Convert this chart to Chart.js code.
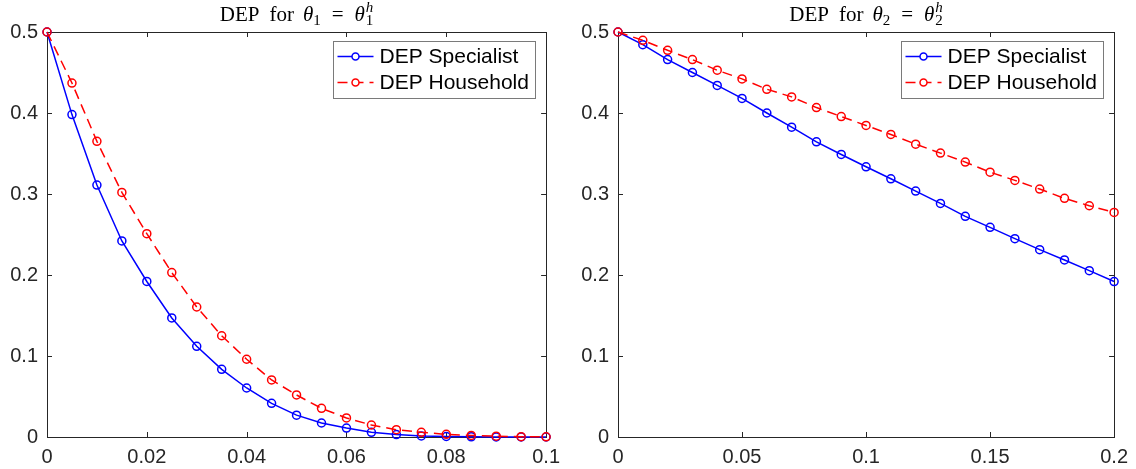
<!DOCTYPE html>
<html>
<head>
<meta charset="utf-8">
<script src="https://cdn.jsdelivr.net/npm/chart.js@4/dist/chart.umd.min.js"></script>
<style>
  body { margin: 0; background: #fff; }
  canvas { position: absolute; top: 0; }
</style>
</head>
<body>
<canvas id="leftChart" width="568" height="469" style="left:0"></canvas>
<canvas id="rightChart" width="568" height="469" style="left:568px"></canvas>
<script>
// theta_1 = theta_1^h panel
var xLeft = [0, 0.005, 0.01, 0.015, 0.02, 0.025, 0.03, 0.035, 0.04, 0.045, 0.05,
             0.055, 0.06, 0.065, 0.07, 0.075, 0.08, 0.085, 0.09, 0.095, 0.1];
var specialistLeft = [0.5, 0.398, 0.311, 0.242, 0.192, 0.147, 0.112, 0.0835, 0.0605, 0.0416, 0.027,
                      0.0173, 0.011, 0.0058, 0.003, 0.0013, 0.0006, 0.0002, 0.0001, 0, 0];
var householdLeft = [0.5, 0.437, 0.365, 0.302, 0.251, 0.203, 0.1605, 0.125, 0.096, 0.0704, 0.0519,
                     0.0354, 0.0235, 0.0148, 0.009, 0.0058, 0.0033, 0.002, 0.001, 0.0004, 0.0002];
var xTicksLeft = [0, 0.02, 0.04, 0.06, 0.08, 0.1];
var xLabelsLeft = ['0', '0.02', '0.04', '0.06', '0.08', '0.1'];

// theta_2 = theta_2^h panel
var xRight = [0, 0.01, 0.02, 0.03, 0.04, 0.05, 0.06, 0.07, 0.08, 0.09, 0.1,
              0.11, 0.12, 0.13, 0.14, 0.15, 0.16, 0.17, 0.18, 0.19, 0.2];
var specialistRight = [0.5, 0.4844, 0.466, 0.450, 0.434, 0.418, 0.400, 0.3825, 0.3644, 0.3488, 0.3336,
                       0.3188, 0.3036, 0.2884, 0.2724, 0.2588, 0.2449, 0.2313, 0.2186, 0.2054, 0.1919];
var householdRight = [0.5, 0.4897, 0.4774, 0.4659, 0.4528, 0.4421, 0.4293, 0.4199, 0.4067, 0.3956, 0.3846,
                      0.3735, 0.3615, 0.3505, 0.3394, 0.327, 0.3168, 0.3061, 0.2946, 0.2855, 0.2773];
var xTicksRight = [0, 0.05, 0.1, 0.15, 0.2];
var xLabelsRight = ['0', '0.05', '0.1', '0.15', '0.2'];

var yTicks = [0, 0.1, 0.2, 0.3, 0.4, 0.5];
var yLabels = ['0', '0.1', '0.2', '0.3', '0.4', '0.5'];
var seriesNames = ['DEP Specialist', 'DEP Household'];

var axisColor = '#262626';
var tickFont = { family: '"Liberation Sans", Arial, sans-serif', size: 20 };

function points(xs, ys) {
  return xs.map(function (x, i) { return { x: x, y: ys[i] }; });
}

// MATLAB-style box with inward tick marks on all four sides
var frame = {
  id: 'frame',
  beforeDatasetsDraw: function (chart) {
    var ctx = chart.ctx, a = chart.chartArea;
    var sx = chart.scales.x, sy = chart.scales.y;
    ctx.save();
    ctx.strokeStyle = axisColor;
    ctx.lineWidth = 1;
    ctx.strokeRect(Math.round(a.left) + 0.5, Math.round(a.top) + 0.5,
                   Math.round(a.right - a.left), Math.round(a.bottom - a.top));
    ctx.beginPath();
    sx.ticks.forEach(function (t) {
      var px = Math.round(sx.getPixelForValue(t.value)) + 0.5;
      ctx.moveTo(px, a.bottom); ctx.lineTo(px, a.bottom - 5);
      ctx.moveTo(px, a.top); ctx.lineTo(px, a.top + 5);
    });
    sy.ticks.forEach(function (t) {
      var py = Math.round(sy.getPixelForValue(t.value)) + 0.5;
      ctx.moveTo(a.left, py); ctx.lineTo(a.left + 5, py);
      ctx.moveTo(a.right, py); ctx.lineTo(a.right - 5, py);
    });
    ctx.stroke();
    ctx.restore();
  }
};

// legend box in the upper right corner of the axes
var boxLegend = {
  id: 'boxLegend',
  afterDatasetsDraw: function (chart) {
    var ctx = chart.ctx, a = chart.chartArea;
    var w = 202, h = 57;
    var left = Math.round(a.right - 11 - w) + 0.5, top = Math.round(a.top + 9) + 0.5;
    ctx.save();
    ctx.fillStyle = '#fff';
    ctx.fillRect(left, top, w, h);
    ctx.strokeStyle = '#7a7a7a';
    ctx.lineWidth = 1;
    ctx.strokeRect(left, top, w, h);
    chart.data.datasets.forEach(function (ds, i) {
      var y = top + 15 + i * 26;
      ctx.strokeStyle = ds.borderColor;
      ctx.lineWidth = 1.5;
      ctx.setLineDash(ds.borderDash || []);
      ctx.beginPath();
      ctx.moveTo(left + 4, y); ctx.lineTo(left + 40, y);
      ctx.stroke();
      ctx.setLineDash([]);
      ctx.beginPath();
      ctx.arc(left + 22, y, 3.5, 0, Math.PI * 2);
      ctx.fillStyle = '#fff';
      ctx.fill();
      ctx.stroke();
      ctx.fillStyle = '#000';
      ctx.font = '21px "Liberation Sans", Arial, sans-serif';
      ctx.textBaseline = 'middle';
      ctx.fillText(ds.label, left + 46, y + 1);
    });
    ctx.restore();
  }
};

// title "DEP for θk = θk^h" with sub/superscripts
var mathTitle = {
  id: 'mathTitle',
  afterDraw: function (chart) {
    var k = chart.options.plugins.mathTitle.index;
    var ctx = chart.ctx, a = chart.chartArea;
    var serif = '"Liberation Serif", "DejaVu Serif", serif';
    var big = '21px ' + serif, bigIt = 'italic 21px ' + serif;
    var small = '15px ' + serif, smallIt = 'italic 15px ' + serif;
    // gap = extra space after a piece
    var parts = [
      { t: 'DEP', f: big, dy: 0, gap: 10 },
      { t: 'for', f: big, dy: 0, gap: 9 },
      { t: 'θ', f: bigIt, dy: 0, gap: 0 },
      { t: k, f: small, dy: 4, gap: 11 },
      { t: '=', f: big, dy: 0, gap: 11 },
      { t: 'θ', f: bigIt, dy: 0, gap: 1 },
      { t: 'h', f: smallIt, dy: -9, gap: 0, stack: true },
      { t: k, f: small, dy: 4, gap: 0 }
    ];
    ctx.save();
    var total = 0;
    parts.forEach(function (p) {
      ctx.font = p.f;
      p.w = ctx.measureText(p.t).width;
      if (!p.stack) total += p.w + p.gap;
    });
    var x = (a.left + a.right) / 2 - total / 2;
    var base = 21;
    ctx.fillStyle = '#000';
    ctx.textBaseline = 'alphabetic';
    parts.forEach(function (p) {
      ctx.font = p.f;
      ctx.fillText(p.t, x, base + p.dy);
      if (!p.stack) x += p.w + p.gap;
    });
    ctx.restore();
  }
};

function makeChart(id, xs, spec, house, xMax, xTicks, xLabels, yWidth, padRight, index) {
  return new Chart(document.getElementById(id).getContext('2d'), {
    type: 'line',
    data: {
      datasets: [{
        label: seriesNames[0],
        data: points(xs, spec),
        borderColor: '#0000ff',
        backgroundColor: 'rgba(0,0,0,0)',
        borderWidth: 1.5,
        pointRadius: 4,
        pointBorderWidth: 1.5,
        pointBackgroundColor: 'rgba(0,0,0,0)',
        tension: 0,
        clip: false,
        order: 1
      }, {
        label: seriesNames[1],
        data: points(xs, house),
        borderColor: '#ff0000',
        backgroundColor: 'rgba(0,0,0,0)',
        borderWidth: 1.5,
        borderDash: [10, 6],
        pointRadius: 4,
        pointBorderWidth: 1.5,
        pointBackgroundColor: 'rgba(0,0,0,0)',
        tension: 0,
        clip: false,
        order: 0
      }]
    },
    options: {
      responsive: false,
      animation: false,
      events: [],
      layout: { padding: { top: 32, right: padRight, left: 0, bottom: 0 } },
      plugins: {
        legend: { display: false },
        tooltip: { enabled: false },
        mathTitle: { index: index }
      },
      scales: {
        x: {
          type: 'linear',
          min: 0,
          max: xMax,
          afterBuildTicks: function (s) { s.ticks = xTicks.map(function (v) { return { value: v }; }); },
          afterFit: function (s) { s.height = 32; },
          grid: { display: false, drawTicks: false },
          border: { display: false },
          ticks: {
            color: axisColor, font: tickFont, padding: 8,
            maxRotation: 0, autoSkip: false,
            callback: function (v, i) { return xLabels[i]; }
          }
        },
        y: {
          type: 'linear',
          min: 0,
          max: 0.5,
          afterBuildTicks: function (s) { s.ticks = yTicks.map(function (v) { return { value: v }; }); },
          afterFit: function (s) { s.width = yWidth; },
          grid: { display: false, drawTicks: false },
          border: { display: false },
          ticks: {
            color: axisColor, font: tickFont, padding: 9,
            callback: function (v, i) { return yLabels[i]; }
          }
        }
      }
    },
    plugins: [frame, boxLegend, mathTitle]
  });
}

makeChart('leftChart', xLeft, specialistLeft, householdLeft, 0.1, xTicksLeft, xLabelsLeft, 47, 21, '1');
makeChart('rightChart', xRight, specialistRight, householdRight, 0.2, xTicksRight, xLabelsRight, 50, 19, '2');
</script>
</body>
</html>
